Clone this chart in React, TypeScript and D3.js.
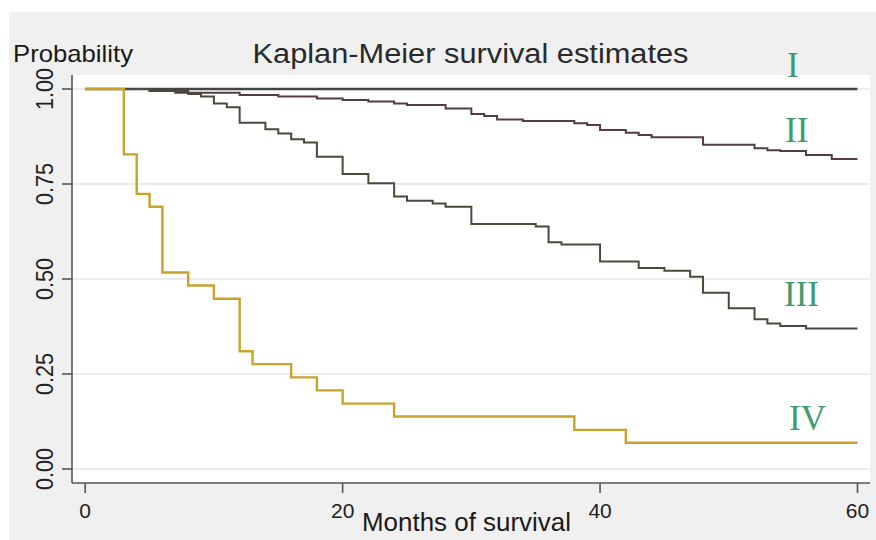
import React from "react";
import * as d3 from "d3";

// ---- data ----
const xTicks = [0, 20, 40, 60];
const yTicks = [0, 0.25, 0.5, 0.75, 1];
const followUpEnd = 60;

const timesI = [0];
const survI = [1];

const timesII = [0, 5, 7, 12, 15, 18, 20, 22, 24, 25, 28, 30, 31, 32, 34, 38, 39, 40, 42, 43, 44, 48, 52, 53, 54, 56, 58];
const survII = [1, 0.995, 0.99, 0.984, 0.98, 0.975, 0.971, 0.967, 0.962, 0.958, 0.949, 0.934, 0.929, 0.92, 0.916, 0.91, 0.905, 0.892, 0.885, 0.879, 0.873, 0.853, 0.844, 0.839, 0.837, 0.826, 0.816];

const timesIII = [0, 5, 8, 9, 10, 11, 12, 14, 15, 16, 17, 18, 20, 22, 24, 25, 27, 28, 30, 35, 36, 37, 40, 43, 45, 47, 48, 50, 52, 53, 54, 56];
const survIII = [1, 0.995, 0.987, 0.98, 0.962, 0.952, 0.911, 0.894, 0.883, 0.868, 0.859, 0.822, 0.776, 0.752, 0.717, 0.706, 0.699, 0.69, 0.645, 0.638, 0.597, 0.591, 0.546, 0.529, 0.522, 0.506, 0.464, 0.423, 0.394, 0.383, 0.376, 0.37];

const timesIV = [0, 3, 4, 5, 6, 8, 10, 12, 13, 16, 18, 20, 24, 38, 42];
const survIV = [1, 0.828, 0.724, 0.69, 0.517, 0.483, 0.448, 0.31, 0.276, 0.241, 0.207, 0.172, 0.138, 0.103, 0.069];

const groupNames = ["I", "II", "III", "IV"];
const groupTimes = [timesI, timesII, timesIII, timesIV];
const groupSurv = [survI, survII, survIII, survIV];

// ---- layout / style ----
const W = 876;
const H = 540;
const plotL = 72, plotR = 870, plotT = 75, plotB = 483;
const lineColors = ["#444444", "#553c40", "#4a4a3c", "#c9a22a"];
const lineWidths = [2.4, 2, 2, 2.4];
const labelPos = [
  { x: 787, y: 77 },
  { x: 785, y: 142 },
  { x: 784, y: 306 },
  { x: 789, y: 430 },
];
const sans = "'Liberation Sans', Arial, sans-serif";
const serif = "'Liberation Serif', 'Times New Roman', serif";

export default function App() {
  const x = d3.scaleLinear().domain([0, 60]).range([85.2, 857.5]);
  const y = d3.scaleLinear().domain([0, 1]).range([469, 89]);
  const line = d3
    .line<[number, number]>()
    .x((d) => x(d[0]))
    .y((d) => y(d[1]))
    .curve(d3.curveStepAfter);
  const fmt = d3.format(".2f");

  const paths = groupNames.map((name, i) => {
    const t = groupTimes[i];
    const s = groupSurv[i];
    const pts: [number, number][] = t.map((tt, j) => [tt, s[j]]);
    pts.push([followUpEnd, s[s.length - 1]]);
    return line(pts) || "";
  });

  return (
    <svg
      width={W}
      height={H}
      style={{ position: "absolute", left: 0, top: 0 }}
      xmlns="http://www.w3.org/2000/svg"
    >
      <rect x={0} y={0} width={W} height={H} fill="#ffffff" />
      <rect x={9} y={12} width={W - 9} height={H - 12} fill="#f0f0f0" />
      <rect x={plotL} y={plotT} width={plotR - plotL} height={plotB - plotT} fill="#ffffff" />

      {yTicks.map((v) => (
        <line key={"g" + v} x1={plotL} x2={plotR} y1={y(v)} y2={y(v)} stroke="#e6e6e6" strokeWidth={1.5} />
      ))}

      {/* axes */}
      <line x1={plotL} x2={plotL} y1={plotT} y2={plotB} stroke="#555" strokeWidth={1.6} />
      <line x1={plotL} x2={plotR} y1={plotB} y2={plotB} stroke="#555" strokeWidth={1.6} />

      {yTicks.map((v) => (
        <g key={"yt" + v}>
          <line x1={62} x2={plotL} y1={y(v)} y2={y(v)} stroke="#555" strokeWidth={1.6} />
          <text
            transform={`translate(53,${y(v)}) rotate(-90)`}
            textAnchor="middle"
            fontFamily={sans}
            fontSize={24}
            textLength={42}
            lengthAdjust="spacingAndGlyphs"
            fill="#222"
          >
            {fmt(v)}
          </text>
        </g>
      ))}

      {xTicks.map((v) => (
        <g key={"xt" + v}>
          <line x1={x(v)} x2={x(v)} y1={plotB} y2={493} stroke="#555" strokeWidth={1.6} />
          <text x={x(v)} y={518} textAnchor="middle" fontFamily={sans} fontSize={21} fill="#222">
            {v}
          </text>
        </g>
      ))}

      {/* curves */}
      {paths.map((d, i) => (
        <path key={"p" + i} d={d} fill="none" stroke={lineColors[i]} strokeWidth={lineWidths[i]} />
      ))}

      {/* group labels */}
      {groupNames.map((name, i) => (
        <text key={"l" + name} x={labelPos[i].x} y={labelPos[i].y} fontFamily={serif} fontSize={35} fill="#3d9b6d">
          {name}
        </text>
      ))}

      {/* titles */}
      <text x={13} y={62} fontFamily={sans} fontSize={24} textLength={120} lengthAdjust="spacingAndGlyphs" fill="#1a1a1a">
        Probability
      </text>
      <text x={252.5} y={63} fontFamily={sans} fontSize={27} textLength={436} lengthAdjust="spacingAndGlyphs" fill="#2a2a2a">
        Kaplan-Meier survival estimates
      </text>
      <text x={362} y={531} fontFamily={sans} fontSize={26} textLength={209} lengthAdjust="spacingAndGlyphs" fill="#1a1a1a">
        Months of survival
      </text>
    </svg>
  );
}
